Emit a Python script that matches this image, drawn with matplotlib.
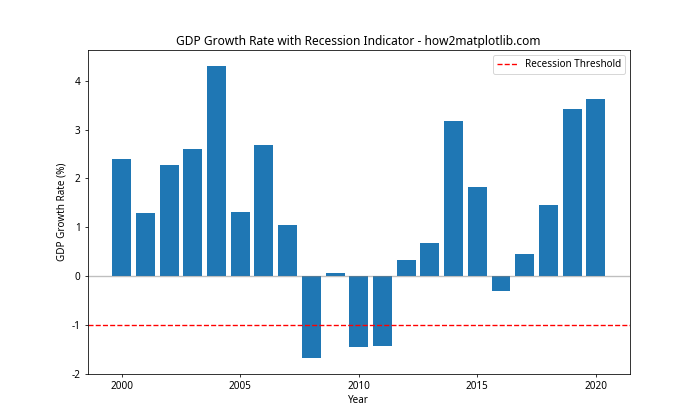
import matplotlib
matplotlib.use("Agg")
import matplotlib.pyplot as plt

plt.rcParams['font.family'] = ['Noto Sans', 'DejaVu Sans']
plt.rcParams['axes.unicode_minus'] = False

years = list(range(2000, 2021))
gdp_growth = [2.39, 1.29, 2.27, 2.61, 4.31, 1.31, 2.69, 1.04, -1.68, 0.06,
              -1.46, -1.43, 0.33, 0.67, 3.18, 1.82, -0.31, 0.45, 1.45, 3.43, 3.63]
threshold = -1.0

fig, ax = plt.subplots(figsize=(10, 6), dpi=70)
ax.bar(years, gdp_growth, color='#1f77b4')
ax.axhline(0, color='gray', linewidth=1.4, alpha=0.5)
ax.axhline(threshold, color='red', linestyle='--', linewidth=1.4, label='Recession Threshold')
ax.set_ylim(-2.0, 4.62)
ax.set_title('GDP Growth Rate with Recession Indicator - how2matplotlib.com', fontsize=12.3)
ax.set_xlabel('Year', fontsize=10.2)
ax.set_ylabel('GDP Growth Rate (%)', fontsize=10.2)
ax.tick_params(labelsize=10.2)
ax.legend(fontsize=10.2)
fig.savefig('out.png', dpi=70)
